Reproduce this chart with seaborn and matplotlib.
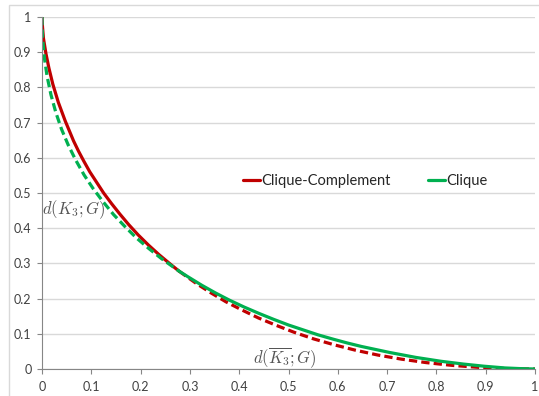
import matplotlib
matplotlib.use("Agg")
import matplotlib.pyplot as plt
import seaborn as sns
from matplotlib.lines import Line2D
from matplotlib.patches import Rectangle

# values (x = d(K3bar;G), y = d(K3;G))
x_cross = 0.278

clique_x = [0, 0.0003, 0.0012, 0.0047, 0.0104, 0.0182, 0.028, 0.0397, 0.0533, 0.0686, 0.0855,
            0.104, 0.124, 0.145, 0.168, 0.191, 0.216, 0.242, 0.268, 0.278, 0.296, 0.324, 0.352,
            0.381, 0.410, 0.440, 0.470, 0.500, 0.530, 0.560, 0.590, 0.619, 0.648, 0.705, 0.758,
            0.809, 0.855, 0.896, 0.939, 0.972, 1.0]
clique_y = [1.0, 0.970, 0.941, 0.885, 0.831, 0.779, 0.729, 0.681, 0.636, 0.593, 0.551,
            0.512, 0.475, 0.439, 0.405, 0.373, 0.343, 0.314, 0.288, 0.278, 0.262, 0.238, 0.216,
            0.195, 0.176, 0.158, 0.141, 0.125, 0.111, 0.097, 0.085, 0.074, 0.064, 0.047, 0.033,
            0.022, 0.014, 0.008, 0.003, 0.001, 0.0]

compl_x = [0, 0.000125, 0.001, 0.003, 0.008, 0.014, 0.022, 0.033, 0.047, 0.064, 0.074, 0.085,
           0.097, 0.111, 0.125, 0.141, 0.158, 0.176, 0.195, 0.216, 0.238, 0.262, 0.278, 0.288,
           0.314, 0.343, 0.373, 0.405, 0.439, 0.475, 0.512, 0.551, 0.593, 0.636, 0.681, 0.729,
           0.779, 0.831, 0.885, 0.941, 0.970, 1.0]
compl_y = [1.0, 0.993, 0.972, 0.939, 0.896, 0.855, 0.809, 0.758, 0.705, 0.648, 0.619, 0.590,
           0.560, 0.530, 0.500, 0.470, 0.440, 0.410, 0.381, 0.352, 0.324, 0.296, 0.278, 0.268,
           0.242, 0.216, 0.191, 0.168, 0.145, 0.124, 0.104, 0.0855, 0.0686, 0.0533, 0.0397, 0.028,
           0.0182, 0.0104, 0.0047, 0.0012, 0.0003, 0.0]

ticks = [0, 0.1, 0.2, 0.3, 0.4, 0.5, 0.6, 0.7, 0.8, 0.9, 1]
tick_labels = ["0", "0.1", "0.2", "0.3", "0.4", "0.5", "0.6", "0.7", "0.8", "0.9", "1"]

red = "#c00000"
green = "#00b050"

sns.set_style("white")
plt.rcParams["font.family"] = ["Lato", "DejaVu Sans"]
plt.rcParams["mathtext.fontset"] = "cm"

fig = plt.figure(figsize=(5.39, 3.96), dpi=100)
ax = fig.add_axes([42 / 539, 1 - 369 / 396, 493 / 539, 352 / 396])


def split(xs, ys, left):
    px = [a for a in xs if (a <= x_cross) == left or a == x_cross]
    py = [b for a, b in zip(xs, ys) if (a <= x_cross) == left or a == x_cross]
    return px, py


lw = 2.3
dash = (2.6, 1.3)

# clique-complement: solid left of crossing, dashed right
x1, y1 = split(compl_x, compl_y, True)
x2, y2 = split(compl_x, compl_y, False)
sns.lineplot(x=x1, y=y1, ax=ax, color=red, lw=lw, legend=False)
sns.lineplot(x=x2, y=y2, ax=ax, color=red, lw=lw, legend=False)
ax.lines[-1].set_dashes(dash)

# clique: dashed left of crossing, solid right
x1, y1 = split(clique_x, clique_y, True)
x2, y2 = split(clique_x, clique_y, False)
sns.lineplot(x=x1, y=y1, ax=ax, color=green, lw=lw, legend=False)
ax.lines[-1].set_dashes(dash)
sns.lineplot(x=x2, y=y2, ax=ax, color=green, lw=lw, legend=False)

ax.set_xlim(0, 1)
ax.set_ylim(0, 1)
ax.set_xticks(ticks)
ax.set_xticklabels(tick_labels)
ax.set_yticks(ticks)
ax.set_yticklabels(tick_labels)
ax.set_xlabel("")
ax.set_ylabel("")

ax.yaxis.grid(True, color="#d9d9d9", lw=1.0)
ax.set_axisbelow(True)
for s in ["top", "right"]:
    ax.spines[s].set_visible(False)
for s in ["left", "bottom"]:
    ax.spines[s].set_color("#868686")
    ax.spines[s].set_linewidth(0.8)
ax.tick_params(axis="both", direction="out", length=3.5, width=0.8, color="#868686",
               labelsize=9, labelcolor="#404040")
ax.tick_params(axis="x", pad=5)
ax.tick_params(axis="y", pad=4)
ax.tick_params(left=True, bottom=True)

handles = [Line2D([], [], color=red, lw=lw), Line2D([], [], color=green, lw=lw)]
ax.legend(handles, ["Clique-Complement", "Clique"], ncol=2, frameon=False,
          loc="center", bbox_to_anchor=(0.656, 0.535), handlelength=1.15,
          handletextpad=0.08, columnspacing=2.6, fontsize=10.5)

ax.text(0.0, 0.452, r"$d(K_3;G)$", fontsize=12, color="#555555",
        ha="left", va="center")
ax.text(0.493, 0.033, r"$d(\overline{K_3};G)$", fontsize=12, color="#555555",
        ha="center", va="center")

fig.add_artist(Rectangle((9 / 539, -0.1), 2, 1.1 - 5 / 396, transform=fig.transFigure,
                         fill=False, ec="#d9d9d9", lw=1))

fig.savefig("out.png", dpi=100)
